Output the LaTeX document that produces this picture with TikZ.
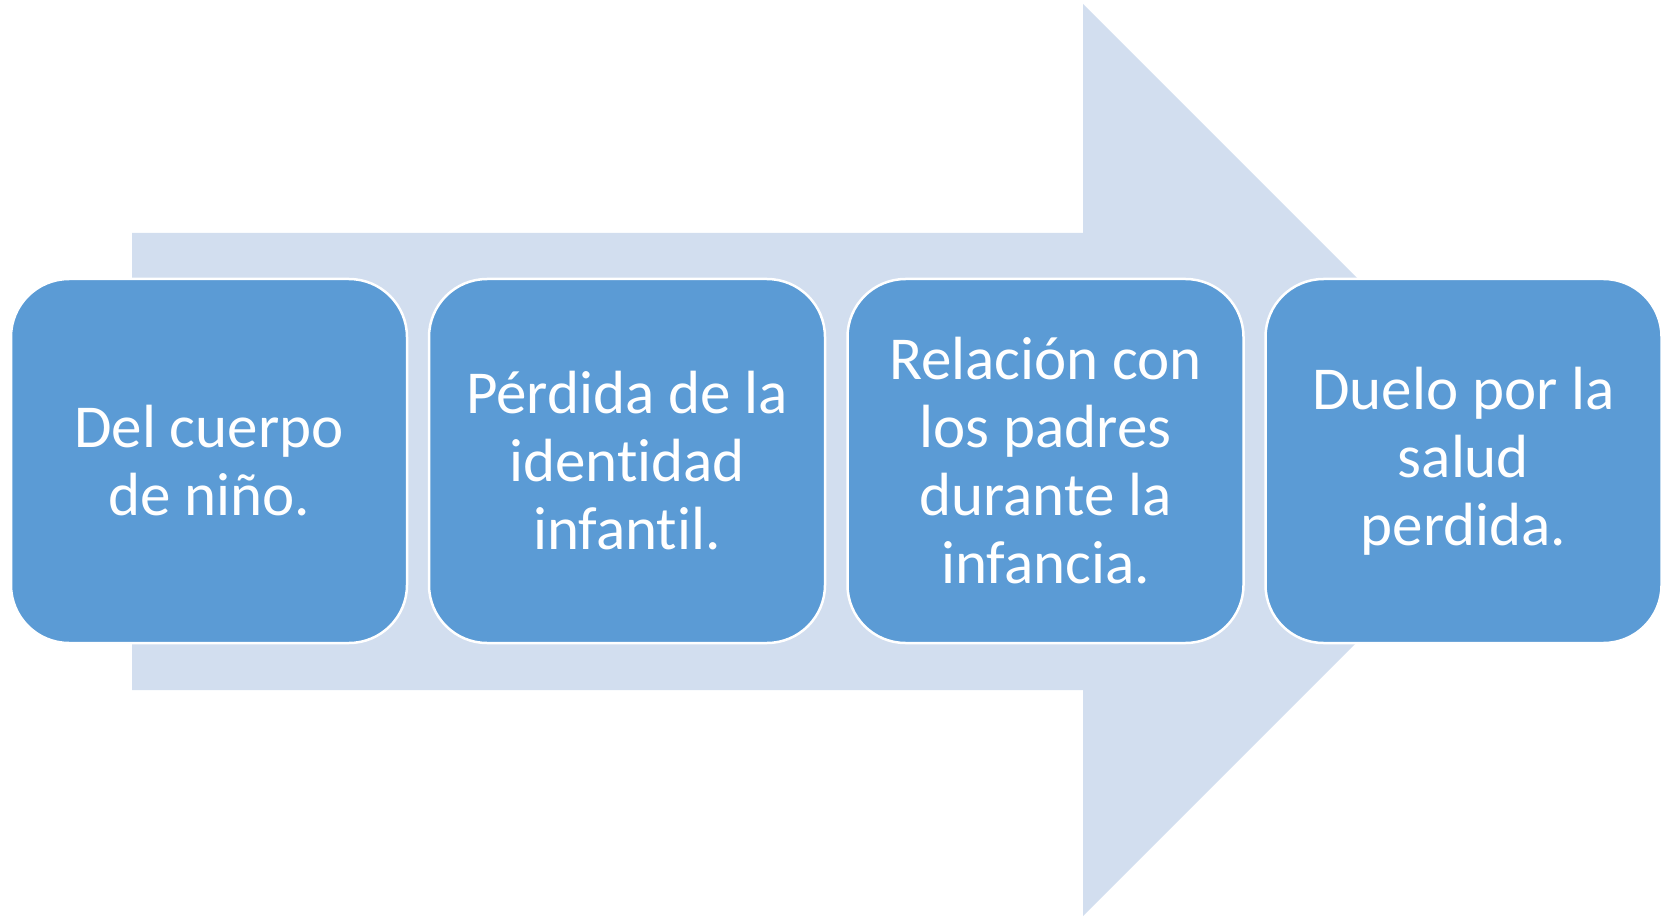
\documentclass[tikz,border=0pt]{standalone}
\usepackage{fontspec}
\setmainfont[Ligatures={NoCommon}]{Carlito}
\definecolor{arrowfill}{HTML}{D2DEEF}
\definecolor{boxfill}{HTML}{5B9BD5}
\begin{document}
\begin{tikzpicture}[x=1pt,y=-1pt,
  stepbox/.style={draw=white, line width=2.5pt, fill=boxfill, rounded corners=58pt,
    minimum width=396pt, minimum height=364pt, inner sep=0pt, align=center,
    text=white, font=\fontsize{61pt}{68pt}\selectfont}]
\useasboundingbox (0,0) rectangle (1667,917);
\fill[arrowfill] (132,233) -- (1083,233) -- (1083,4) -- (1539,460) -- (1083,916) -- (1083,690) -- (132,690) -- cycle;
\node[stepbox] (b1) at (209,461) {Del cuerpo\\de niño.};
\node[stepbox] (b2) at (627,461) {Pérdida de la\\identidad\\infantil.};
\node[stepbox] (b3) at (1045.5,461) {Relación con\\los padres\\durante la\\infancia.};
\node[stepbox] (b4) at (1463.5,461) {Duelo por la\\salud\\perdida.};
\end{tikzpicture}
\end{document}
